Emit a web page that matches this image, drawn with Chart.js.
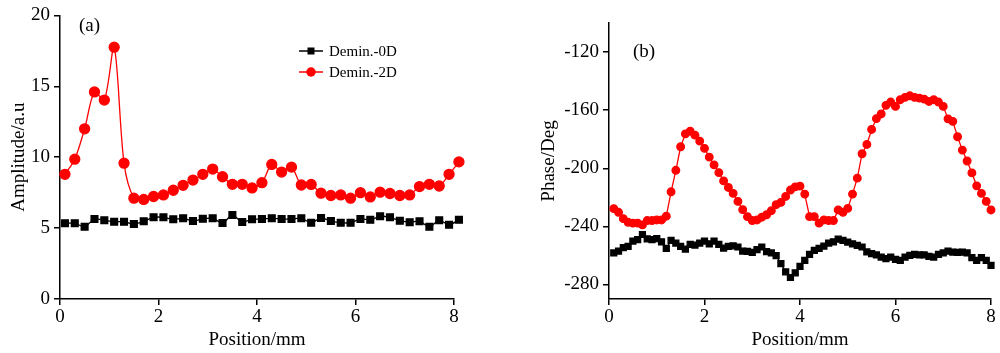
<!DOCTYPE html>
<html>
<head>
<meta charset="utf-8">
<script src="https://cdn.jsdelivr.net/npm/chart.js@4.4.1/dist/chart.umd.min.js"></script>
<style>
    body { margin: 0; background: #fff; }
    #wrap { position: relative; width: 1000px; height: 353px; }
    canvas { position: absolute; top: 0; }
    #amp-chart { left: 0; }
    #phase-chart { left: 500px; }
</style>
</head>
<body>
<div id="wrap">
    <canvas id="amp-chart" width="500" height="353"></canvas>
    <canvas id="phase-chart" width="500" height="353"></canvas>
</div>
<script>
// Panel (a) - amplitude
const posA = [0.1, 0.3, 0.5, 0.7, 0.9, 1.1, 1.3, 1.5, 1.7, 1.9, 2.1, 2.3, 2.5, 2.7, 2.9, 3.1, 3.3, 3.5, 3.7, 3.9,
    4.1, 4.3, 4.5, 4.7, 4.9, 5.1, 5.3, 5.5, 5.7, 5.9, 6.1, 6.3, 6.5, 6.7, 6.9, 7.1, 7.3, 7.5, 7.7, 7.9, 8.1];
const amp0D = [5.34, 5.34, 5.1, 5.64, 5.55, 5.45, 5.45, 5.29, 5.48, 5.76, 5.76, 5.62, 5.69, 5.5, 5.66, 5.69, 5.36, 5.92, 5.43, 5.62,
    5.64, 5.69, 5.64, 5.64, 5.69, 5.38, 5.71, 5.5, 5.38, 5.38, 5.64, 5.59, 5.83, 5.76, 5.52, 5.41, 5.48, 5.1, 5.55, 5.24, 5.59];
const amp2D = [8.79, 9.86, 12.0, 14.6, 14.03, 17.76, 9.58, 7.11, 7.02, 7.23, 7.34, 7.67, 8.02, 8.39, 8.79, 9.16, 8.62, 8.09, 8.09, 7.83,
    8.2, 9.49, 8.95, 9.3, 8.04, 8.08, 7.46, 7.3, 7.34, 7.11, 7.5, 7.2, 7.53, 7.44, 7.3, 7.34, 7.93, 8.09, 7.97, 8.79, 9.67];

// Panel (b) - phase
const posB = [0.1, 0.2, 0.3, 0.4, 0.5, 0.6, 0.7, 0.8, 0.9, 1.0, 1.1, 1.2, 1.3, 1.4, 1.5, 1.6, 1.7, 1.8, 1.9, 2.0,
    2.1, 2.2, 2.3, 2.4, 2.5, 2.6, 2.7, 2.8, 2.9, 3.0, 3.1, 3.2, 3.3, 3.4, 3.5, 3.6, 3.7, 3.8, 3.9, 4.0,
    4.1, 4.2, 4.3, 4.4, 4.5, 4.6, 4.7, 4.8, 4.9, 5.0, 5.1, 5.2, 5.3, 5.4, 5.5, 5.6, 5.7, 5.8, 5.9, 6.0,
    6.1, 6.2, 6.3, 6.4, 6.5, 6.6, 6.7, 6.8, 6.9, 7.0, 7.1, 7.2, 7.3, 7.4, 7.5, 7.6, 7.7, 7.8, 7.9, 8.0, 8.1];
const phase0D = [-258.3, -257, -254.7, -253.8, -250.1, -249.2, -245.6, -248.6, -249.2, -248.4,
    -250.6, -255.2, -249.7, -251.5, -253.8, -255.6, -252.4, -252.9, -251.5, -250.1,
    -252, -250.1, -252.4, -254.9, -253.8, -253.4, -254.2, -257, -257.2, -257.9,
    -256, -254.2, -257.4, -258.3, -260.2, -265.6, -271.3, -275.2, -272, -267.5,
    -263.4, -259.3, -256.6, -255.2, -253.6, -251.5, -250.6, -248.8, -249.7, -250.8,
    -252, -253.1, -254.2, -257.6, -258.8, -259.7, -261.1, -262.2, -261.1, -262.7,
    -263.4, -261.1, -260, -259.3, -259.7, -259.7, -260.7, -261.1, -259.3, -258.3,
    -257, -257.7, -257.9, -257.7, -258.3, -261.5, -263.4, -261.5, -263.4, -266.8, -269.1];
const phase2D = [-227.8, -230.3, -234.7, -237.2, -237.8, -237.8, -239, -236, -236, -235.6,
    -235.6, -233, -216.2, -201.4, -185.2, -176.3, -174.5, -177.2, -181.3, -186.3,
    -192.3, -197.7, -203, -208.7, -213.2, -217.3, -222.8, -228.5, -233.3, -236,
    -235.6, -233.7, -232, -229.2, -225.1, -223.5, -219.4, -215, -212.8, -212.3,
    -217.8, -233.3, -233.3, -237.8, -235.6, -236, -236, -228.7, -230.3, -227.6,
    -217.8, -206.8, -190, -183.6, -173.3, -165.8, -162.6, -156.7, -154.4, -157.4,
    -152.8, -151.2, -150.1, -151.2, -151.7, -152.4, -154, -152.8, -154.4, -157.4,
    -166, -167.7, -178.3, -187.5, -195, -203.2, -212.1, -217.3, -222.8, -228.7, -234.9];

const posTicks = [0, 2, 4, 6, 8];
const ampTicks = [0, 5, 10, 15, 20];
const phaseTicks = [-280, -240, -200, -160, -120];
const seriesNames = ['Demin.-0D', 'Demin.-2D'];

const FONT = 'Liberation Serif, Times New Roman, serif';

function toPoints(xs, ys) {
    return xs.map((x, i) => ({ x: x, y: ys[i] }));
}

function axisCommon(ticks, fitSize, isX) {
    return {
        type: 'linear',
        min: isX ? 0 : undefined,
        max: isX ? 8 : undefined,
        afterBuildTicks: (scale) => { scale.ticks = ticks.map(v => ({ value: v })); },
        afterFit: (scale) => {
            if (isX) scale.height = fitSize; else scale.width = fitSize;
        },
        grid: { display: true, drawOnChartArea: false, drawTicks: true, tickLength: 6, color: '#000', lineWidth: 1.5 },
        border: { display: true, color: '#000', width: 1.5 },
        ticks: { color: '#000', font: { family: FONT, size: 19 }, padding: isX ? 1 : 4, maxRotation: 0 }
    };
}

// Panel label and legend drawn on the canvas
const annotate = {
    id: 'annotate',
    afterDraw(chart) {
        const ctx = chart.ctx;
        const opts = chart.options.plugins.annotate;
        ctx.save();
        ctx.fillStyle = '#000';
        ctx.font = '19px ' + FONT;
        ctx.textBaseline = 'middle';
        ctx.fillText(opts.label, opts.labelX, opts.labelY);
        if (opts.legend) {
            ctx.font = '15px ' + FONT;
            chart.data.datasets.forEach((ds, i) => {
                const y = opts.legendY + i * 21;
                const x0 = opts.legendX;
                ctx.strokeStyle = ds.borderColor;
                ctx.lineWidth = 1.5;
                ctx.beginPath();
                ctx.moveTo(x0, y);
                ctx.lineTo(x0 + 24, y);
                ctx.stroke();
                ctx.fillStyle = ds.pointBackgroundColor;
                if (ds.pointStyle === 'rect') {
                    ctx.fillRect(x0 + 8.5, y - 3.5, 7, 7);
                } else {
                    ctx.beginPath();
                    ctx.arc(x0 + 12, y, 4.7, 0, Math.PI * 2);
                    ctx.fill();
                }
                ctx.fillStyle = '#000';
                ctx.fillText(ds.label, x0 + 30, y + 1);
            });
        }
        ctx.restore();
    }
};

const ampChart = new Chart(
    document.getElementById('amp-chart'),
    {
        type: 'line',
        data: {
            datasets: [
                {
                    label: seriesNames[0],
                    data: toPoints(posA, amp0D),
                    borderColor: '#000',
                    backgroundColor: '#000',
                    pointBackgroundColor: '#000',
                    pointStyle: 'rect',
                    pointRadius: 4.8,
                    borderWidth: 1.3,
                    tension: 0.3,
                    clip: false
                },
                {
                    label: seriesNames[1],
                    data: toPoints(posA, amp2D),
                    borderColor: '#ff0000',
                    backgroundColor: '#ff0000',
                    pointBackgroundColor: '#ff0000',
                    pointStyle: 'circle',
                    pointRadius: 5,
                    borderWidth: 1.3,
                    tension: 0.3,
                    clip: false
                }
            ]
        },
        options: {
            responsive: false,
            animation: false,
            devicePixelRatio: 1,
            layout: { padding: { left: 0, right: 46, top: 13, bottom: 0 } },
            scales: {
                x: Object.assign(axisCommon(posTicks, 54, true), {
                    title: { display: true, text: 'Position/mm', color: '#000', font: { family: FONT, size: 19 }, padding: { top: 0, bottom: 2 } }
                }),
                y: Object.assign(axisCommon(ampTicks, 60, false), {
                    min: 0, max: 20,
                    title: { display: true, text: 'Amplitude/a.u', color: '#000', font: { family: FONT, size: 19 }, padding: { top: 8, bottom: 0 } }
                })
            },
            plugins: {
                legend: { display: false },
                tooltip: { enabled: false },
                annotate: { label: '(a)', labelX: 79, labelY: 26, legend: true, legendX: 299, legendY: 51 }
            }
        },
        plugins: [annotate]
    }
);

const phaseChart = new Chart(
    document.getElementById('phase-chart'),
    {
        type: 'line',
        data: {
            datasets: [
                {
                    label: seriesNames[0],
                    data: toPoints(posB, phase0D),
                    borderColor: '#000',
                    backgroundColor: '#000',
                    pointBackgroundColor: '#000',
                    pointStyle: 'rect',
                    pointRadius: 4.2,
                    borderWidth: 1.3,
                    tension: 0,
                    clip: false
                },
                {
                    label: seriesNames[1],
                    data: toPoints(posB, phase2D),
                    borderColor: '#ff0000',
                    backgroundColor: '#ff0000',
                    pointBackgroundColor: '#ff0000',
                    pointStyle: 'circle',
                    pointRadius: 3.8,
                    borderWidth: 1.3,
                    tension: 0,
                    clip: false
                }
            ]
        },
        options: {
            responsive: false,
            animation: false,
            devicePixelRatio: 1,
            layout: { padding: { left: 30, right: 9, top: 23, bottom: 0 } },
            scales: {
                x: Object.assign(axisCommon(posTicks, 54, true), {
                    title: { display: true, text: 'Position/mm', color: '#000', font: { family: FONT, size: 19 }, padding: { top: 0, bottom: 2 } }
                }),
                y: Object.assign(axisCommon(phaseTicks, 79, false), {
                    min: -290, max: -100,
                    title: { display: true, text: 'Phase/Deg', color: '#000', font: { family: FONT, size: 19 }, padding: { top: 8, bottom: 0 } }
                })
            },
            plugins: {
                legend: { display: false },
                tooltip: { enabled: false },
                annotate: { label: '(b)', labelX: 133, labelY: 52, legend: false }
            }
        },
        plugins: [annotate]
    }
);
</script>
</body>
</html>
